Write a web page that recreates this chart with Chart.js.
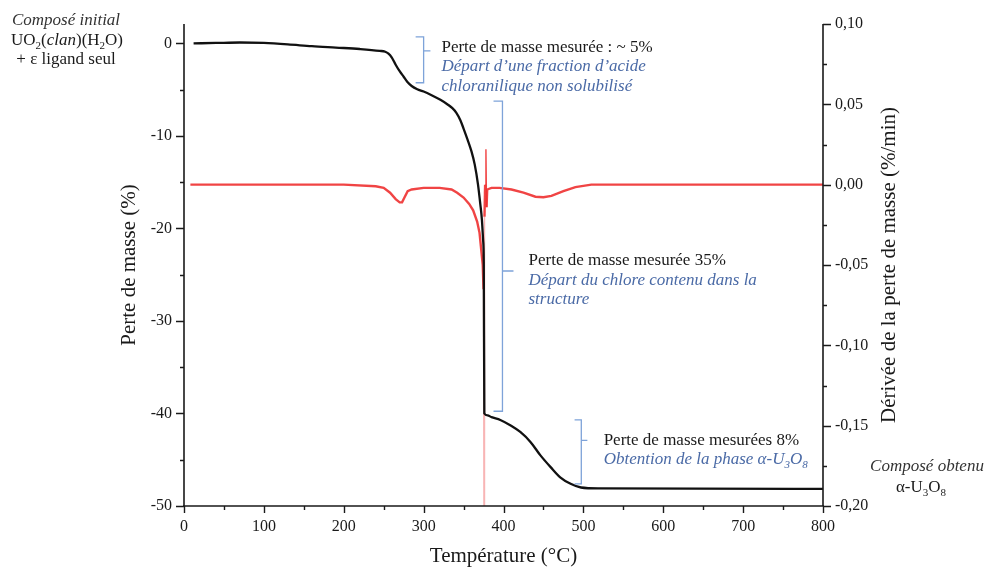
<!DOCTYPE html>
<html>
<head>
<meta charset="utf-8">
<script src="https://cdn.jsdelivr.net/npm/chart.js@4.4.1/dist/chart.umd.min.js"></script>
<style>
html,body{margin:0;padding:0;background:#fff;}
#wrap{width:986px;height:569px;position:relative;}
</style>
</head>
<body>
<div id="wrap"><canvas id="c" width="986" height="569"></canvas></div>
<script>
// Thermogravimetric curve: temperature (°C) and mass change (%)
const tgaTemp = [12, 40, 70, 100, 130, 160, 190, 220, 245, 252, 256, 260, 265, 270, 275, 280, 285, 292, 300, 310, 321, 330, 336, 341, 346, 350, 355, 360, 364, 368, 371, 373, 374.5, 375.3, 376, 380, 385, 396, 409, 421, 434, 446, 459, 471, 484, 497, 520, 800];
const tgaMass = [0, 0.05, 0.1, 0.05, -0.1, -0.3, -0.45, -0.6, -0.8, -0.9, -1.1, -1.5, -2.3, -3.0, -3.6, -4.2, -4.6, -4.95, -5.2, -5.6, -6.1, -6.6, -7.0, -7.5, -8.3, -9.2, -10.4, -11.7, -13.1, -15.2, -17.4, -19.1, -21.3, -23.6, -40.0, -40.2, -40.4, -40.7, -41.3, -42.0, -43.1, -44.5, -45.8, -46.9, -47.6, -48.0, -48.1, -48.15];

// Derivative of the mass loss: temperature (°C) and rate (%/min)
const dtgTemp = [8, 50, 100, 150, 200, 240, 250, 258, 265, 270, 273, 276, 280, 285, 300, 320, 335, 342, 350, 357, 362, 367, 370, 372, 374, 375, 375.6, 376.2, 377, 378, 378.8, 379.6, 385, 395, 410, 425, 440, 450, 460, 475, 490, 510, 800];
const dtgRate = [0.000, 0.000, 0.000, 0.000, 0.000, -0.001, -0.002, -0.005, -0.009, -0.011, -0.011, -0.008, -0.004, -0.003, -0.002, -0.002, -0.003, -0.005, -0.008, -0.012, -0.016, -0.023, -0.030, -0.040, -0.050, -0.065, -0.230, -0.020, 0.000, 0.022, -0.014, -0.003, -0.002, -0.002, -0.003, -0.005, -0.0075, -0.0078, -0.007, -0.004, -0.0015, 0.000, 0.000];

// Tick values of the three axes
const tempTicks = [0, 100, 200, 300, 400, 500, 600, 700, 800];
const massTicks = [0, -10, -20, -30, -40, -50];
const rateTicks = [0.10, 0.05, 0.00, -0.05, -0.10, -0.15, -0.20];

const SERIF = '"Liberation Serif", "Times New Roman", serif';
const INK = '#1a1a1a';
const BLUE_TXT = '#4a6aa6';
const BLUE_LINE = '#7ea3d9';

// Brackets marking each mass-loss step (x in °C, y in %)
const brackets = [
  { x: 300,   left: 290,   tick: 308.5, top: 0.7,   bottom: -4.25, mid: -0.8 },
  { x: 398.7, left: 387.5, tick: 412.5, top: -6.24, bottom: -39.76, mid: -24.6 },
  { x: 497.4, left: 489,   tick: 505,   top: -40.7, bottom: -47.6, mid: -42.9 }
];

// Notes beside the brackets
const notes = [
  { x: 322.3, y: -0.91, lines: [
    [{ t: 'Perte de masse mesurée : ~ 5%' }],
    [{ t: 'Départ d’une fraction d’acide', it: true, blue: true }],
    [{ t: 'chloranilique non solubilisé', it: true, blue: true }]
  ]},
  { x: 431.3, y: -23.97, lines: [
    [{ t: 'Perte de masse mesurée 35%' }],
    [{ t: 'Départ du chlore contenu dans la', it: true, blue: true }],
    [{ t: 'structure', it: true, blue: true }]
  ]},
  { x: 525.4, y: -43.36, lines: [
    [{ t: 'Perte de masse mesurées 8%' }],
    [{ t: 'Obtention de la phase α-U', it: true, blue: true }, { t: '3', it: true, blue: true, sub: true },
     { t: 'O', it: true, blue: true }, { t: '8', it: true, blue: true, sub: true }]
  ]}
];

function font(size, italic) {
  return (italic ? 'italic ' : '') + size + 'px ' + SERIF;
}

// Draws a line of mixed roman / italic / subscript text
function drawRich(ctx, parts, x, y, align, size, color) {
  let w = 0;
  const widths = parts.map(p => {
    ctx.font = font(p.sub ? Math.round(size * 0.65) : size, p.it);
    const m = ctx.measureText(p.t).width;
    w += m;
    return m;
  });
  let cx = align === 'center' ? x - w / 2 : (align === 'right' ? x - w : x);
  ctx.textAlign = 'left';
  ctx.textBaseline = 'alphabetic';
  parts.forEach((p, i) => {
    ctx.font = font(p.sub ? Math.round(size * 0.65) : size, p.it);
    ctx.fillStyle = p.blue ? BLUE_TXT : (p.color || color);
    ctx.fillText(p.t, cx, y + (p.sub ? 3.5 : 0));
    cx += widths[i];
  });
}

const axesAndNotes = {
  id: 'axesAndNotes',
  afterDatasetsDraw(chart) {
    const ctx = chart.ctx;
    const a = chart.chartArea;
    const xs = chart.scales.x, ys = chart.scales.y, yr = chart.scales.y1;
    ctx.save();

    // axis lines
    ctx.strokeStyle = INK;
    ctx.lineWidth = 1.6;
    ctx.beginPath();
    ctx.moveTo(a.left, a.top); ctx.lineTo(a.left, a.bottom);
    ctx.moveTo(a.right, a.top); ctx.lineTo(a.right, a.bottom);
    ctx.moveTo(a.left - 1, a.bottom); ctx.lineTo(a.right + 1, a.bottom);
    ctx.stroke();

    // tick marks, major and minor
    ctx.lineWidth = 1.4;
    ctx.beginPath();
    for (let v = -50; v <= 0; v += 5) {
      const py = Math.round(ys.getPixelForValue(v)) + 0.5;
      const len = v % 10 === 0 ? 8 : 4;
      ctx.moveTo(a.left - len, py); ctx.lineTo(a.left, py);
    }
    for (let v = 0; v <= 800; v += 50) {
      const px = Math.round(xs.getPixelForValue(v)) + 0.5;
      const len = v % 100 === 0 ? 7 : 4;
      ctx.moveTo(px, a.bottom); ctx.lineTo(px, a.bottom + len);
    }
    for (let k = -8; k <= 4; k++) {
      const v = k * 0.025;
      const py = Math.round(yr.getPixelForValue(v)) + 0.5;
      const len = k % 2 === 0 ? 8 : 4;
      ctx.moveTo(a.right, py); ctx.lineTo(a.right + len, py);
    }
    ctx.stroke();

    // brackets
    ctx.strokeStyle = BLUE_LINE;
    ctx.lineWidth = 1.3;
    brackets.forEach(b => {
      const x = xs.getPixelForValue(b.x);
      const xl = xs.getPixelForValue(b.left);
      const xt = xs.getPixelForValue(b.tick);
      const yt = ys.getPixelForValue(b.top);
      const yb = ys.getPixelForValue(b.bottom);
      const ym = ys.getPixelForValue(b.mid);
      ctx.beginPath();
      ctx.moveTo(xl, yt); ctx.lineTo(x, yt); ctx.lineTo(x, yb); ctx.lineTo(xl, yb);
      ctx.moveTo(x, ym); ctx.lineTo(xt, ym);
      ctx.stroke();
    });

    // notes
    notes.forEach(n => {
      const x = xs.getPixelForValue(n.x);
      const y = ys.getPixelForValue(n.y);
      n.lines.forEach((ln, i) => drawRich(ctx, ln, x, y + i * 19.5, 'left', 17, INK));
    });

    // starting and final compound
    drawRich(ctx, [{ t: 'Composé initial', it: true }], 66, 25, 'center', 17, '#333');
    drawRich(ctx, [{ t: 'UO' }, { t: '2', sub: true }, { t: '(' }, { t: 'clan', it: true }, { t: ')(H' },
                   { t: '2', sub: true }, { t: 'O)' }], 67, 45, 'center', 17, INK);
    drawRich(ctx, [{ t: '+ ε ligand seul' }], 66, 64, 'center', 17, INK);
    drawRich(ctx, [{ t: 'Composé obtenu', it: true }], 927, 471, 'center', 17, '#333');
    drawRich(ctx, [{ t: 'α-U' }, { t: '3', sub: true }, { t: 'O' }, { t: '8', sub: true }], 921, 492, 'center', 17, INK);

    // axis titles
    ctx.fillStyle = INK;
    ctx.font = font(21, false);
    ctx.textAlign = 'center';
    ctx.textBaseline = 'middle';
    ctx.fillText('Température (°C)', (a.left + a.right) / 2, 556);
    const cy = (a.top + a.bottom) / 2;
    ctx.save();
    ctx.translate(129, cy); ctx.rotate(-Math.PI / 2);
    ctx.fillText('Perte de masse (%)', 0, 0);
    ctx.restore();
    ctx.save();
    ctx.translate(889, cy); ctx.rotate(-Math.PI / 2);
    ctx.fillText('Dérivée de la perte de masse (%/min)', 0, 0);
    ctx.restore();

    ctx.restore();
  }
};

const tickFont = { family: SERIF, size: 16 };
const noGrid = { display: false, drawTicks: false };

new Chart(document.getElementById('c'), {
  type: 'line',
  data: {
    datasets: [
      {
        label: 'Perte de masse',
        data: tgaTemp.map((t, i) => ({ x: t, y: tgaMass[i] })),
        yAxisID: 'y',
        borderColor: '#111',
        borderWidth: 2.3,
        pointRadius: 0,
        cubicInterpolationMode: 'monotone'
      },
      {
        label: 'Dérivée',
        data: dtgTemp.map((t, i) => ({ x: t, y: dtgRate[i] })),
        yAxisID: 'y1',
        borderColor: 'rgba(238,48,48,0.9)',
        borderWidth: 2.4,
        pointRadius: 0,
        tension: 0,
        segment: {
          borderColor: c => (c.p0.parsed.y < -0.1 || c.p1.parsed.y < -0.1) ? 'rgba(240,90,90,0.45)' : undefined,
          borderWidth: c => (c.p0.parsed.y < -0.1 || c.p1.parsed.y < -0.1 || c.p1.parsed.y > 0.01 || c.p0.parsed.y > 0.01) ? 1.4 : undefined
        }
      }
    ]
  },
  options: {
    responsive: false,
    devicePixelRatio: 1,
    animation: false,
    layout: { padding: { top: 24, left: 0, right: 0, bottom: 0 } },
    plugins: { legend: { display: false }, tooltip: { enabled: false } },
    scales: {
      x: {
        type: 'linear', position: 'bottom', min: 0, max: 800,
        grid: noGrid, border: { display: false },
        afterBuildTicks: s => { s.ticks = tempTicks.map(v => ({ value: v })); },
        afterFit: s => { s.height = 63; },
        ticks: { font: tickFont, color: INK, padding: 11, maxRotation: 0, callback: v => String(v) }
      },
      y: {
        type: 'linear', position: 'left', min: -50, max: 2.1,
        grid: noGrid, border: { display: false },
        afterBuildTicks: s => { s.ticks = massTicks.map(v => ({ value: v })); },
        afterFit: s => { s.width = 184; },
        ticks: { font: tickFont, color: INK, padding: 12, callback: v => String(v) }
      },
      y1: {
        type: 'linear', position: 'right', min: -0.2, max: 0.1,
        grid: noGrid, border: { display: false },
        afterBuildTicks: s => { s.ticks = rateTicks.map(v => ({ value: v })); },
        afterFit: s => { s.width = 163; },
        ticks: { font: tickFont, color: INK, padding: 12, callback: v => v.toFixed(2).replace('.', ',') }
      }
    }
  },
  plugins: [axesAndNotes]
});
</script>
</body>
</html>
